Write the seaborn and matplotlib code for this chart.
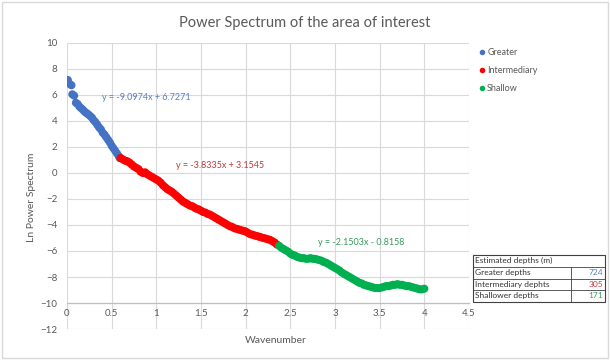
import numpy as np
import pandas as pd
import matplotlib
matplotlib.use("Agg")
import matplotlib.pyplot as plt
import seaborn as sns
from matplotlib.patches import Rectangle
from matplotlib.lines import Line2D

# ---------------- data ----------------
greater_x = [0.01, 0.03, 0.05, 0.06, 0.08, 0.10, 0.12, 0.14, 0.16, 0.18, 0.20, 0.22,
             0.24, 0.26, 0.28, 0.30, 0.32, 0.34, 0.36, 0.38, 0.40, 0.42, 0.44, 0.46,
             0.48, 0.50, 0.52, 0.54, 0.56, 0.58, 0.59]
greater_y = [7.15, 6.85, 6.75, 6.05, 5.95, 5.40, 5.30, 5.10, 4.98, 4.85, 4.70, 4.60,
             4.50, 4.38, 4.25, 4.05, 3.90, 3.70, 3.50, 3.35, 3.10, 2.95, 2.75, 2.55,
             2.35, 2.10, 1.90, 1.70, 1.50, 1.30, 1.15]

inter_x = [0.600, 0.625, 0.650, 0.675, 0.700, 0.725, 0.750, 0.775, 0.800, 0.825,
           0.850, 0.875, 0.900, 0.925, 0.950, 0.975, 1.000, 1.025, 1.050, 1.075,
           1.100, 1.125, 1.150, 1.175, 1.200, 1.225, 1.250, 1.275, 1.300, 1.325,
           1.350, 1.375, 1.400, 1.425, 1.450, 1.475, 1.500, 1.525, 1.550, 1.575,
           1.600, 1.625, 1.650, 1.675, 1.700, 1.725, 1.750, 1.775, 1.800, 1.825,
           1.850, 1.875, 1.900, 1.925, 1.950, 1.975, 2.000, 2.025, 2.050, 2.075,
           2.100, 2.125, 2.150, 2.175, 2.200, 2.225, 2.250, 2.275, 2.300, 2.325,
           2.350]
inter_y = [1.15, 1.05, 0.95, 0.90, 0.80, 0.65, 0.50, 0.40, 0.30, 0.10,
           0.00, 0.05, -0.10, -0.20, -0.30, -0.40, -0.50, -0.60, -0.75, -0.95,
           -1.10, -1.25, -1.35, -1.45, -1.60, -1.75, -1.90, -2.05, -2.20, -2.30,
           -2.40, -2.50, -2.55, -2.65, -2.75, -2.80, -2.90, -3.00, -3.05, -3.15,
           -3.20, -3.30, -3.40, -3.50, -3.60, -3.70, -3.80, -3.90, -4.00, -4.10,
           -4.15, -4.25, -4.30, -4.35, -4.40, -4.45, -4.50, -4.60, -4.70, -4.75,
           -4.80, -4.85, -4.90, -4.95, -5.00, -5.05, -5.10, -5.15, -5.25, -5.35,
           -5.50]

shallow_x = [2.375, 2.400, 2.425, 2.450, 2.475, 2.500, 2.525, 2.550, 2.575, 2.600,
             2.625, 2.650, 2.675, 2.700, 2.725, 2.750, 2.775, 2.800, 2.825, 2.850,
             2.875, 2.900, 2.925, 2.950, 2.975, 3.000, 3.025, 3.050, 3.075, 3.100,
             3.125, 3.150, 3.175, 3.200, 3.225, 3.250, 3.275, 3.300, 3.325, 3.350,
             3.375, 3.400, 3.425, 3.450, 3.475, 3.500, 3.525, 3.550, 3.575, 3.600,
             3.625, 3.650, 3.675, 3.700, 3.725, 3.750, 3.775, 3.800, 3.825, 3.850,
             3.875, 3.900, 3.925, 3.950, 3.975, 4.000]
shallow_y = [-5.60, -5.75, -5.85, -5.95, -6.05, -6.20, -6.30, -6.35, -6.45, -6.50,
             -6.55, -6.55, -6.60, -6.60, -6.55, -6.60, -6.60, -6.65, -6.70, -6.75,
             -6.85, -6.90, -7.00, -7.10, -7.20, -7.30, -7.40, -7.50, -7.65, -7.75,
             -7.85, -7.95, -8.05, -8.15, -8.25, -8.35, -8.45, -8.50, -8.60, -8.65,
             -8.70, -8.75, -8.80, -8.85, -8.85, -8.85, -8.80, -8.75, -8.70, -8.70,
             -8.65, -8.60, -8.60, -8.55, -8.60, -8.60, -8.65, -8.70, -8.70, -8.75,
             -8.80, -8.85, -8.90, -8.95, -8.95, -8.90]

series_names = ["Greater", "Intermediary", "Shallow"]
equations = ["y = -9.0974x + 6.7271", "y = -3.8335x + 3.1545", "y = -2.1503x - 0.8158"]
table_rows = ["Greater depths", "Intermediary dephts", "Shallower depths"]
table_values = ["724", "305", "171"]
x_ticks = [0, 0.5, 1, 1.5, 2, 2.5, 3, 3.5, 4, 4.5]
x_tick_labels = ["0", "0.5", "1", "1.5", "2", "2.5", "3", "3.5", "4", "4.5"]
y_ticks = [-12, -10, -8, -6, -4, -2, 0, 2, 4, 6, 8, 10]

colors = {"Greater": "#4472C4", "Intermediary": "#FF0000", "Shallow": "#00B050"}
text_colors = {"Greater": "#5B7FC0", "Intermediary": "#C0393B", "Shallow": "#3A9A5E"}

df = pd.concat([
    pd.DataFrame({"x": greater_x, "y": greater_y, "s": "Greater"}),
    pd.DataFrame({"x": inter_x, "y": inter_y, "s": "Intermediary"}),
    pd.DataFrame({"x": shallow_x, "y": shallow_y, "s": "Shallow"}),
])

# ---------------- figure ----------------
sns.set_style("white")
plt.rcParams["font.family"] = ["Lato", "DejaVu Sans"]
fig = plt.figure(figsize=(6.1, 3.6), dpi=100)
ax = fig.add_axes([0.1098, 0.0861, 0.659, 0.7945])

sns.scatterplot(data=df, x="x", y="y", hue="s", palette=colors, s=34,
                linewidth=0, ax=ax, legend=False, zorder=3)

ax.set_xlim(0, 4.5)
ax.set_ylim(-12, 10)
ax.set_xticks(x_ticks)
ax.set_xticklabels(x_tick_labels)
ax.set_yticks(y_ticks)
ax.grid(True, color="#D9D9D9", linewidth=0.8, zorder=0)
ax.set_axisbelow(True)
for sp in ["top", "right", "left"]:
    ax.spines[sp].set_visible(False)
ax.spines["bottom"].set_position(("data", -10))
ax.spines["bottom"].set_color("#BFBFBF")
ax.spines["bottom"].set_linewidth(0.9)
ax.tick_params(axis="both", length=0, labelsize=7, labelcolor="#595959")
ax.tick_params(axis="x", pad=4)
ax.tick_params(axis="y", pad=7)
ax.set_xlabel("Wavenumber", fontsize=7.5, color="#595959")
ax.set_ylabel("Ln Power Spectrum", fontsize=7.5, color="#595959")
ax.xaxis.set_label_coords(0.52, -0.025)
ax.yaxis.set_label_coords(-0.078, 0.46)

fig.suptitle("Power Spectrum of the area of interest", fontsize=10.5,
             color="#595959", x=0.5, y=0.955)

# equations
ax.text(0.39, 5.77, equations[0], color=text_colors["Greater"], fontsize=6.5, va="center")
ax.text(1.22, 0.54, equations[1], color=text_colors["Intermediary"], fontsize=6.5, va="center")
ax.text(2.81, -5.38, equations[2], color=text_colors["Shallow"], fontsize=6.5, va="center")

# legend
handles = [Line2D([], [], marker="o", linestyle="", markersize=4,
                  markerfacecolor=colors[n], markeredgewidth=0, label=n)
           for n in series_names]
leg = fig.legend(handles=handles, loc="upper left", bbox_to_anchor=(0.775, 0.877),
                 frameon=False, fontsize=6.5, handletextpad=0.0, labelspacing=1.0,
                 handlelength=1.2, borderaxespad=0)
for t in leg.get_texts():
    t.set_color("#595959")

# depth table (figure coordinates)
W, H = 610.0, 360.0
left, right, mid = 473 / W, 605 / W, 571 / W
tops = [255, 266.5, 278.5, 290, 301.5]
def fy(p):
    return 1 - p / H
fig.add_artist(Rectangle((left, fy(tops[-1])), right - left, fy(tops[0]) - fy(tops[-1]),
                         transform=fig.transFigure, fill=False, edgecolor="#404040",
                         linewidth=0.8))
for t in tops[1:-1]:
    fig.add_artist(Line2D([left, right], [fy(t), fy(t)], transform=fig.transFigure,
                          color="#404040", linewidth=0.6))
fig.add_artist(Line2D([mid, mid], [fy(tops[1]), fy(tops[-1])], transform=fig.transFigure,
                      color="#404040", linewidth=0.6))
fig.text(left + 2 / W, fy((tops[0] + tops[1]) / 2), "Estimated depths (m)",
         fontsize=6, color="#333333", va="center")
for i, (name, val, key) in enumerate(zip(table_rows, table_values, series_names)):
    yc = fy((tops[i + 1] + tops[i + 2]) / 2)
    fig.text(left + 2 / W, yc, name, fontsize=6, color="#333333", va="center")
    fig.text(right - 2 / W, yc, val, fontsize=6, color=text_colors[key],
             va="center", ha="right")

# outer frame
fig.add_artist(Rectangle((0.004, 0.006), 0.992, 0.988, transform=fig.transFigure,
                         fill=False, edgecolor="#D9D9D9", linewidth=1.0))

fig.savefig("out.png", dpi=100)
